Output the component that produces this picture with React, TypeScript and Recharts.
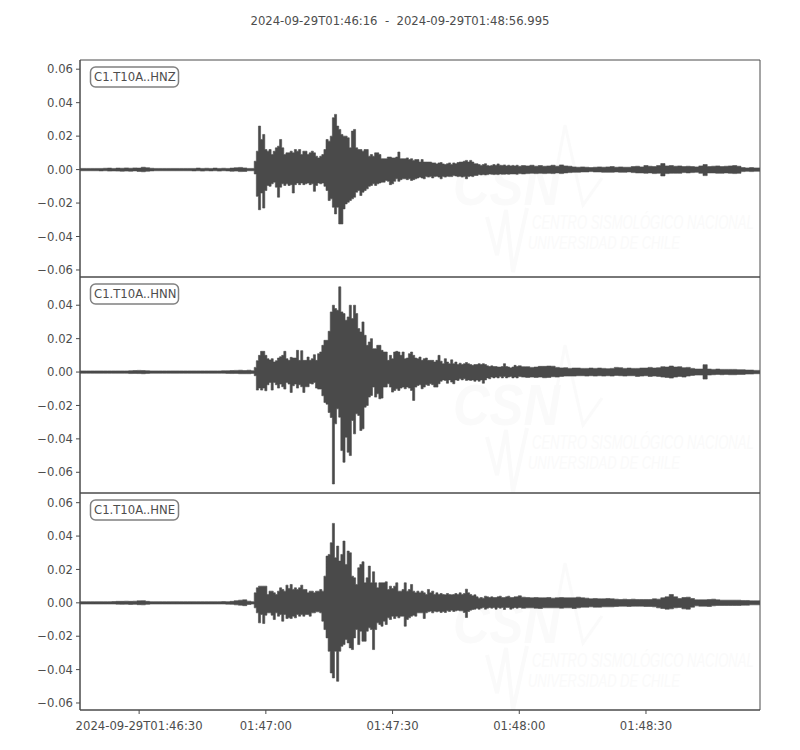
import React from "react";
import { ComposedChart, Area, XAxis, YAxis, ReferenceArea } from "recharts";

const INK = "#4a4a4a";
const TEXT = "#4d4d4d";
const FONT = "'DejaVu Sans', sans-serif";
const SIZE = 11.65;
const END = 160.995;

// seconds after 01:46:16
const times = [
  0, 1, 2, 3, 4, 5, 6, 7, 8, 9,
  10, 11, 12, 13, 14, 15, 16, 17, 18, 19,
  20, 21, 22, 23, 24, 25, 26, 27, 28, 29,
  30, 31, 32, 33, 34, 35, 36, 37, 38, 39,
  40, 41,
  41.5, 42, 42.5, 43, 43.5, 44, 44.5, 45, 45.5, 46,
  46.5, 47, 47.5, 48, 48.5, 49, 49.5, 50, 50.5, 51,
  51.5, 52, 52.5, 53, 53.5, 54, 54.5, 55, 55.5, 56,
  56.5, 57, 57.5, 58, 58.5, 59, 59.5, 60, 60.5, 61,
  61.5, 62, 62.5, 63, 63.5, 64, 64.5, 65, 65.5, 66,
  66.5, 67, 67.5, 68, 68.5, 69, 69.5, 70, 70.5, 71,
  71.5, 72, 72.5, 73, 73.5, 74, 74.5, 75, 75.5, 76,
  76.5, 77, 77.5, 78, 78.5, 79, 79.5, 80, 80.5, 81,
  81.5, 82, 82.5, 83, 83.5, 84, 84.5, 85, 85.5, 86,
  86.5, 87, 87.5, 88, 88.5, 89, 89.5, 90, 90.5, 91,
  91.5, 92, 92.5, 93, 93.5, 94, 94.5, 95, 95.5, 96,
  96.5, 97, 97.5, 98, 98.5, 99, 99.5, 100, 100.5, 101,
  101.5, 102, 102.5, 103, 103.5, 104,
  105, 106, 107, 108, 109, 110, 111, 112, 113, 114,
  115, 116, 117, 118, 119, 120, 121, 122, 123, 124,
  125, 126, 127, 128, 129, 130, 131, 132, 133, 134,
  135, 136, 137, 138, 139, 140, 141, 142, 143, 144,
  145, 146, 147, 148, 149, 150, 151, 152, 153, 154,
  155, 156, 157, 158, 159, 160, 160.995,
];

// envelope of each trace, in units of 0.001; "Lo" lists the size of the negative swing
const hnzHi = [
  0.7, 0.7, 0.7, 0.7, 0.7, 0.7, 0.8, 0.9, 0.7, 0.9,
  0.8, 1, 0.8, 1, 0.9, 1.4, 1.1, 0.8, 0.7, 0.7,
  0.7, 0.7, 0.7, 0.7, 0.7, 0.7, 0.7, 0.7, 0.9, 0.7,
  0.8, 0.7, 0.9, 0.7, 0.8, 0.7, 0.9, 1.1, 1.3, 1,
  0.7, 0.7,
  5, 11, 26, 18, 21, 12, 11, 12, 9, 11,
  13, 14, 18, 13, 9, 10, 10, 11, 10, 12,
  11, 12, 9, 11, 11, 9, 10, 11, 10, 8,
  7, 8, 9, 12, 18, 17, 20, 31, 33, 26,
  24, 21, 20, 20, 19, 13, 23, 24, 13, 12,
  12, 11, 12, 12, 8, 9, 8, 10, 10, 9,
  6.5, 6.5, 6.5, 7.5, 7.5, 7, 7, 7.5, 10.5, 6.5,
  6.5, 6.5, 7, 6, 6.5, 5.5, 6, 6, 4.5, 6,
  4.5, 4.5, 4.5, 4.5, 4, 4, 3.4, 4, 4.2, 3.4,
  3, 3.5, 4, 3, 4, 3.5, 4.2, 4.5, 4.5, 5,
  5.5, 4.5, 5.5, 4.5, 3.5, 3.5, 3, 2.5, 3, 3.5,
  2.5, 2.2, 2.5, 3, 2.6, 3.4, 2.6, 2.5, 2.8, 2.2,
  2.6, 2.2, 2.5, 2.2, 2.6, 2,
  2.4, 2.2, 2.6, 2, 2.4, 2, 2.2, 2.6, 2, 2.8,
  2.2, 2, 1.6, 1.4, 1.6, 1.4, 1.2, 1.4, 1.6, 1.4,
  1.6, 1.8, 1.4, 1.6, 1.4, 1.4, 1.8, 2, 1.6, 2.4,
  2, 1.8, 2.4, 3.6, 2.2, 2.4, 2, 2.2, 1.8, 2,
  1.8, 1.6, 2.2, 3, 1.8, 2, 2.2, 1.8, 2, 2.2,
  2.4, 2, 1.2, 1, 1.2, 1, 1,
];
const hnzLo = [
  0.7, 0.7, 0.7, 0.7, 0.7, 0.8, 0.7, 0.9, 0.8, 0.9,
  1, 0.9, 1, 0.8, 1.1, 1.3, 1, 0.8, 0.7, 0.7,
  0.7, 0.7, 0.7, 0.7, 0.7, 0.7, 0.7, 0.8, 0.7, 0.9,
  0.7, 0.8, 0.7, 0.9, 0.7, 0.8, 1, 0.9, 1.2, 1.1,
  0.7, 0.7,
  2.6, 16, 24, 14, 23, 12.5, 9.5, 10, 8.5, 7.5,
  10.5, 16.5, 10.5, 8.5, 9.5, 8.5, 9.5, 9, 14, 9,
  8, 9, 8, 9, 8.5, 8, 9, 8.5, 13, 9.5,
  8, 8.5, 8, 10, 12.5, 18.5, 17.5, 22.5, 26.5, 22.5,
  32.5, 32.5, 23.5, 20.5, 19.5, 18.5, 17.5, 16.5, 13.5, 12.5,
  15.5, 13.5, 12.5, 11.5, 10, 9.5, 8.5, 9.5, 8.5, 8,
  7.5, 7.5, 6.5, 7, 9, 8.5, 7, 5.5, 7, 6,
  5.5, 5.5, 6, 5.5, 6.5, 6, 5.5, 5, 4.5, 5,
  5.5, 4.2, 4.5, 4.2, 5, 4.2, 4, 4.5, 5.5, 4.2,
  4.5, 4, 4.2, 4.2, 3.6, 3.8, 4.2, 4, 4.5, 4.2,
  5.5, 4.2, 3.8, 4.2, 3.5, 3.5, 3, 3.2, 3, 3.2,
  3, 2.6, 2.8, 3, 2.8, 3, 2.6, 2.8, 2.8, 2.6,
  2.8, 2.6, 2.6, 2.6, 2.8, 2.4,
  2.6, 2.4, 2.2, 2.4, 2.2, 2.4, 2.2, 2.4, 2, 2.4,
  2, 1.8, 1.6, 1.6, 1.4, 1.4, 1.2, 1.4, 1.4, 1.6,
  1.6, 1.6, 1.4, 1.6, 1.6, 1.4, 1.8, 2, 2, 2.2,
  2, 2.4, 2.2, 3.8, 2.4, 2.2, 2.2, 2.2, 1.8, 2,
  1.8, 1.6, 2.2, 3.6, 2, 2, 2.2, 2.2, 2, 2.2,
  2.4, 2.2, 1.2, 1, 1.2, 1, 1,
];
const hnnHi = [
  0.7, 0.7, 0.7, 0.7, 0.7, 0.7, 0.7, 0.7, 0.7, 0.7,
  0.7, 0.7, 0.8, 0.9, 1, 0.9, 0.8, 0.7, 0.7, 0.7,
  0.7, 0.7, 0.7, 0.7, 0.7, 0.7, 0.7, 0.7, 0.7, 0.7,
  0.7, 0.7, 0.7, 0.7, 0.8, 0.8, 0.9, 1, 1.1, 0.9,
  1.1, 0.8,
  2.8, 6.8, 10, 12.4, 12.4, 10, 8, 7.2, 8, 6,
  6.8, 8.4, 9.2, 10, 12.4, 8, 7, 8.8, 8.4, 8.4,
  13, 7, 12.8, 7, 7, 9, 7, 8, 10.4, 7,
  11, 12, 16, 19, 19, 24.4, 36, 40, 38, 37,
  51, 36, 35, 31, 33, 40, 32, 40, 35, 26,
  24, 30, 22, 16, 18, 20, 14, 14, 16, 16,
  13, 12, 12, 7, 10, 8, 12, 12.4, 12, 10,
  12, 8, 8.4, 11, 12, 10, 8.4, 8, 9, 7,
  8, 8.4, 7, 7, 7, 6, 7, 10, 6.5, 5,
  8, 6, 5, 7.3, 5, 6, 4.5, 5.3, 4.5, 5,
  5.7, 5, 4.5, 4, 4.5, 4.5, 5, 4.5, 5, 4.5,
  3.7, 3.3, 3.7, 3.3, 3.3, 3, 3, 3.3, 5, 3.3,
  3, 2.5, 3, 4, 3.3, 3.7,
  3.2, 3.2, 2.8, 3, 3.4, 3.4, 3.6, 3.5, 2.8, 2.5,
  2.6, 2.2, 2.4, 2.4, 2.2, 2.2, 2.4, 2.2, 2.4, 2.2,
  2, 2.2, 2.8, 2.6, 2.2, 2.4, 2.2, 2.2, 2.4, 2.4,
  2.8, 2.4, 2.6, 3.2, 3, 3.6, 3, 3.2, 2.6, 2.8,
  2.2, 1.8, 1.8, 4.4, 1.8, 1.6, 1.8, 1.6, 1.6, 1.6,
  1.6, 1.4, 1.4, 1.2, 1.2, 1, 1,
];
const hnnLo = [
  0.7, 0.7, 0.7, 0.7, 0.7, 0.7, 0.7, 0.7, 0.7, 0.7,
  0.7, 0.7, 0.9, 0.8, 0.9, 1, 0.8, 0.7, 0.7, 0.7,
  0.7, 0.7, 0.7, 0.7, 0.7, 0.7, 0.7, 0.7, 0.7, 0.7,
  0.7, 0.7, 0.7, 0.7, 0.7, 0.8, 0.9, 0.8, 1, 1,
  1, 0.8,
  2.2, 10.8, 9.6, 10.8, 9.6, 11.2, 7.6, 6.2, 10.8, 6.2,
  7.6, 9.6, 7.2, 8.8, 10.2, 6.2, 7.2, 12.2, 8.2, 7.2,
  9.6, 7.6, 8.8, 12.2, 8.8, 8.8, 6.8, 7.2, 6.2, 9.6,
  10.2, 10.2, 14.2, 18.2, 19.2, 24.2, 27.2, 67, 31, 22,
  27, 47, 54, 39, 48, 50, 29, 37, 25, 26,
  35, 34, 21, 20, 15, 14, 9, 15, 13, 16,
  15.6, 9, 9, 7, 9, 12, 11, 10, 11, 9.6,
  9, 10, 9, 9.6, 11, 17, 9, 8, 7.6, 10,
  9, 7.6, 8, 7, 7.6, 9, 9, 7, 5.5, 4.7,
  5, 6.7, 4.7, 6, 7, 4.7, 5, 4, 4.7, 4,
  5, 4.7, 5, 4.7, 5.5, 4.7, 5.5, 4.7, 6.7, 4.7,
  3.5, 4, 3, 3.5, 3, 3.5, 2.7, 3.5, 2.7, 3.5,
  3, 2.7, 3.5, 3, 3.5, 2.7,
  3, 3.2, 3, 3.2, 3, 3.4, 3.2, 2.8, 3, 2.6,
  2.4, 2.4, 2.4, 2.2, 2.2, 2.4, 2.2, 2.4, 2.2, 2.4,
  2.2, 2.4, 2, 2.2, 2.4, 2.2, 2.2, 2.6, 2.4, 2.2,
  2.6, 2.4, 2.6, 3, 3.2, 3.6, 3, 2.6, 3, 2.4,
  2, 1.8, 1.8, 4.2, 1.8, 1.6, 1.4, 1.6, 1.4, 1.6,
  1.6, 1.4, 1.4, 1.2, 1.2, 1, 1,
];
const hneHi = [
  0.7, 0.7, 0.7, 0.7, 0.7, 0.7, 0.7, 0.7, 0.8, 0.9,
  0.9, 1, 0.9, 1, 1.2, 1.3, 0.9, 0.7, 0.7, 0.7,
  0.7, 0.7, 0.7, 0.7, 0.7, 0.7, 0.7, 0.7, 0.7, 0.7,
  0.7, 0.7, 0.7, 0.7, 0.8, 0.7, 0.9, 1.3, 1.6, 1.8,
  1, 0.7,
  6, 9, 10, 10, 10, 10, 5, 7, 7, 6,
  5, 7, 9, 8, 7, 10.6, 8.6, 11, 8, 9,
  8, 9, 10.6, 8, 8, 6, 7, 7, 6, 7,
  7, 8, 7, 16, 28, 29, 36, 47.6, 27, 34,
  25, 29, 37, 23, 31, 30, 16, 15, 11, 21,
  23, 24.6, 12, 15, 22, 12, 18.6, 12, 9, 12,
  12, 12, 12.6, 8, 10, 8.6, 10, 12, 7, 7,
  8, 12, 7, 8, 11, 7, 6, 7, 6, 7,
  6, 5, 8, 6, 7, 5, 6, 5, 5.6, 5,
  4.8, 5.6, 5, 4.8, 5, 5.6, 5, 6, 5, 5.6,
  8.2, 6, 5, 4.2, 4.8, 3.6, 2.8, 3.2, 2.8, 4,
  3.6, 3.2, 3.6, 3.2, 3.2, 3.6, 4, 3.2, 3.2, 3.6,
  4, 3.2, 3.2, 3.6, 3.6, 4.2,
  3.4, 3.2, 3, 3.2, 3, 3, 3.2, 2.8, 3, 3.2,
  3, 3, 3, 3.4, 3, 2.8, 2.4, 2.6, 2.4, 2.4,
  2.6, 2.4, 2.2, 2, 2.2, 2, 2.2, 2, 2, 2,
  2, 2.4, 2.2, 3, 3.6, 5, 3.6, 2.6, 3.2, 3.4,
  2.6, 1.8, 1.8, 1.8, 2, 2.2, 1.8, 1.6, 1.6, 1.6,
  1.6, 1.6, 1.4, 1.4, 1.2, 1.2, 1.2,
];
const hneLo = [
  0.7, 0.7, 0.7, 0.7, 0.7, 0.7, 0.7, 0.7, 0.7, 0.8,
  0.9, 0.8, 1, 0.9, 1.1, 1.2, 0.9, 0.7, 0.7, 0.7,
  0.7, 0.7, 0.7, 0.7, 0.7, 0.7, 0.7, 0.7, 0.7, 0.7,
  0.7, 0.7, 0.7, 0.7, 0.7, 0.8, 0.9, 1.2, 1.4, 1.7,
  1, 0.7,
  3, 6, 12, 7, 12.4, 7.4, 6, 6, 7.4, 10,
  6, 8, 7, 11, 7, 9.4, 9, 9.4, 8, 9,
  7, 8, 7, 8, 7, 7, 8, 6, 6, 5.4,
  5.4, 6, 11, 16, 21, 29, 42, 45, 29, 47,
  29, 26, 25, 22, 24, 27, 28, 21, 16, 25,
  17, 23, 23, 17, 15, 16, 28, 16, 12, 13,
  14, 11, 13, 9, 10, 8, 9.4, 8, 9, 8,
  8, 14, 10, 9, 8, 7.4, 8, 6, 6, 6,
  9.4, 6, 5.4, 5, 6, 5, 5.4, 5, 5.8, 5.2,
  5.8, 4.8, 5.2, 4.4, 5.2, 4.8, 4.4, 4.8, 4.8, 5.8,
  8.8, 5.2, 4.4, 4, 3.8, 3.2, 3.8, 3.2, 2.8, 3.8,
  3.2, 2.8, 3.2, 2.8, 3.8, 2.8, 3.2, 2.8, 4, 2.8,
  2.8, 3.8, 3.2, 2.8, 3.2, 2.8,
  3.2, 3, 3, 3.2, 3.4, 3, 3, 3, 3, 3.2,
  3, 3, 3.4, 3, 2.6, 2.6, 2.4, 2.6, 2.6, 2.4,
  2.4, 2.4, 2.2, 2, 2, 2.2, 2, 2, 2, 2.2,
  2.2, 2.4, 3, 3.4, 3.8, 3.6, 3, 2.8, 3.6, 3.8,
  2.6, 1.8, 2, 2, 2.2, 1.8, 1.6, 1.6, 1.6, 1.6,
  1.6, 1.6, 1.4, 1.4, 1.2, 1.2, 1.2,
];

const xTicks = [14, 44, 74, 104, 134];
const xTickLabels = ["2024-09-29T01:46:30", "01:47:00", "01:47:30", "01:48:00", "01:48:30"];
const yTicksFull = [0.06, 0.04, 0.02, 0, -0.02, -0.04, -0.06];
const yTicksMid = [0.04, 0.02, 0, -0.02, -0.04, -0.06];

const panels = [
  { label: "C1.T10A..HNZ", hi: hnzHi, lo: hnzLo, top: 60, height: 217, domain: [-0.0642, 0.0655], ticks: yTicksFull, wm: 0 },
  { label: "C1.T10A..HNN", hi: hnnHi, lo: hnnLo, top: 277, height: 216, domain: [-0.0724, 0.0569], ticks: yTicksMid, wm: 220 },
  { label: "C1.T10A..HNE", hi: hneHi, lo: hneLo, top: 493, height: 217, domain: [-0.0642, 0.0658], ticks: yTicksFull, wm: 438 },
];

const fmtY = (v: number) => {
  const s = Math.abs(v).toFixed(2);
  return v < 0 ? "\u2212" + s : s;
};
const fmtX = (v: number) => xTickLabels[xTicks.indexOf(v)] ?? "";

function Panel({ p, last }: { p: (typeof panels)[number]; last: boolean }) {
  const rows = times.map((t, i) => ({
    t,
    band: [-(p.lo[i] ?? 0.7) / 1000, (p.hi[i] ?? 0.7) / 1000],
  }));
  const bottom = last ? 40 : 10;
  return (
    <div style={{ position: "absolute", left: 0, top: p.top - 10 }}>
      <ComposedChart
        width={800}
        height={p.height + 10 + bottom}
        data={rows}
        margin={{ top: 10, right: 40, bottom: last ? 0 : 10, left: 0 }}
      >
        <XAxis
          dataKey="t"
          type="number"
          domain={[0, END]}
          allowDataOverflow
          ticks={xTicks}
          tickFormatter={fmtX}
          hide={!last}
          height={40}
          interval={0}
          stroke={INK}
          tickSize={4}
          tickMargin={8}
          tick={{ fill: TEXT, fontSize: SIZE, fontFamily: FONT }}
        />
        <YAxis
          type="number"
          width={80}
          domain={p.domain}
          allowDataOverflow
          ticks={p.ticks}
          tickFormatter={fmtY}
          interval={0}
          stroke={INK}
          tickSize={4}
          tickMargin={3}
          tick={{ fill: TEXT, fontSize: SIZE, fontFamily: FONT }}
        />
        <Area
          dataKey="band"
          type="step"
          fill={INK}
          fillOpacity={1}
          stroke={INK}
          strokeWidth={0.6}
          dot={false}
          activeDot={false}
          isAnimationActive={false}
        />
        <ReferenceArea
          x1={0}
          x2={END}
          y1={p.domain[0]}
          y2={p.domain[1]}
          fill="none"
          stroke={INK}
          strokeWidth={1}
          ifOverflow="visible"
        />
      </ComposedChart>
    </div>
  );
}

function Watermark({ dy }: { dy: number }) {
  const c = "#fafafa";
  return (
    <g transform={`translate(0 ${dy})`} fontFamily="'Liberation Sans', sans-serif" fontStyle="italic" fill={c}>
      <text x={453} y={205} fontSize={58} fontWeight={700} textLength={107} lengthAdjust="spacingAndGlyphs">CSN</text>
      <polyline points="550,205 565,125 583,205 602,178" fill="none" stroke={c} strokeWidth={3} />
      <polyline points="487,217 497,255 506,210 513,272 527,208" fill="none" stroke={c} strokeWidth={4} />
      <text transform="translate(532 229) scale(0.65 1)" fontSize={20} textLength={341} lengthAdjust="spacingAndGlyphs">CENTRO SISMOLÓGICO NACIONAL</text>
      <text transform="translate(528 249) scale(0.66 1)" fontSize={18} textLength={230} lengthAdjust="spacingAndGlyphs">UNIVERSIDAD DE CHILE</text>
    </g>
  );
}

export default function App() {
  return (
    <div style={{ position: "absolute", left: 0, top: 0, width: 800, height: 750, background: "#fff", overflow: "hidden" }}>
      <svg width={800} height={750} style={{ position: "absolute", left: 0, top: 0 }}>
        {panels.map((p) => (
          <Watermark key={p.label} dy={p.wm} />
        ))}
      </svg>
      {panels.map((p, i) => (
        <Panel key={p.label} p={p} last={i === panels.length - 1} />
      ))}
      <svg width={800} height={750} style={{ position: "absolute", left: 0, top: 0, pointerEvents: "none" }}>
        <text x={400} y={25} textAnchor="middle" fontFamily={FONT} fontSize={SIZE} fill={TEXT} xmlSpace="preserve">
          {"2024-09-29T01:46:16  -  2024-09-29T01:48:56.995"}
        </text>
        {panels.map((p) => (
          <g key={p.label}>
            <rect x={90.5} y={p.top + 7} width={88} height={20} rx={5} fill="#fff" fillOpacity={0.8} stroke="#808080" strokeWidth={1.5} />
            <text x={94} y={p.top + 21} fontFamily={FONT} fontSize={SIZE} fill={TEXT}>
              {p.label}
            </text>
          </g>
        ))}
      </svg>
    </div>
  );
}
